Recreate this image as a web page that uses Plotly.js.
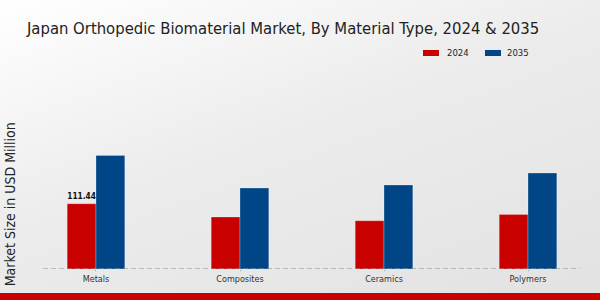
<!DOCTYPE html>
<html>
<head>
<meta charset="utf-8">
<script src="https://cdn.plot.ly/plotly-3.0.1.min.js"></script>
<style>
  html, body { margin: 0; padding: 0; }
  #wrap { position: relative; width: 600px; height: 300px; overflow: hidden;
          background: linear-gradient(160deg, #ffffff 0%, #ececec 45%, #e2e2e2 100%); }
  #chart { position: absolute; left: 0; top: 0; width: 600px; height: 300px; }
  #strip { position: absolute; left: 0; top: 293px; width: 600px; height: 7px; background: #c80000; }
  svg text { font-stretch: condensed; }
</style>
</head>
<body>
<div id="wrap"><div id="chart"></div><div id="strip"></div></div>
<script>
const categories = ["Metals", "Composites", "Ceramics", "Polymers"];
const values2024 = [111.44, 88.7, 82.4, 93.2];
const values2035 = [193.9, 138.2, 143.3, 163.8];
const labels2024 = ["<b>111.44</b>", "", "", ""];
const seriesNames = ["2024", "2035"];
const seriesColors = ["#c80000", "#004687"];

const fam = "DejaVu Sans, sans-serif";

const traces = [
  {
    type: "bar", name: seriesNames[0], x: categories, y: values2024,
    marker: { color: seriesColors[0], line: { color: "rgba(255,255,255,0.5)", width: 0.5 } },
    text: labels2024, textposition: "outside", cliponaxis: false,
    textfont: { family: fam, size: 10, color: "#111" },
    hoverinfo: "skip"
  },
  {
    type: "bar", name: seriesNames[1], x: categories, y: values2035,
    marker: { color: seriesColors[1], line: { color: "rgba(255,255,255,0.5)", width: 0.5 } },
    hoverinfo: "skip"
  }
];

// legend drawn in paper coordinates
const legRectX = [[0.7076, 0.7374], [0.8231, 0.8529]];
const legTextX = [0.7486, 0.8603];
const legendShapes = seriesNames.map((n, i) => ({
  type: "rect", xref: "paper", yref: "paper",
  x0: legRectX[i][0], x1: legRectX[i][1], y0: 1.2241, y1: 1.2586,
  fillcolor: seriesColors[i], line: { width: 0 }
}));
const legendTexts = seriesNames.map((n, i) => ({
  text: n, xref: "paper", yref: "paper", x: legTextX[i], y: 1.2414,
  xanchor: "left", yanchor: "middle", showarrow: false,
  font: { family: fam, size: 9.5, color: "#222" }
}));

const layout = {
  width: 600, height: 300,
  margin: { l: 43, r: 20, t: 95, b: 31, pad: 0, autoexpand: false },
  paper_bgcolor: "rgba(0,0,0,0)", plot_bgcolor: "rgba(0,0,0,0)",
  barmode: "group", bargap: 0.6, bargroupgap: 0,
  title: { text: "Japan Orthopedic Biomaterial Market, By Material Type, 2024 & 2035",
           font: { family: fam, size: 16.5, color: "#222" },
           x: 0.045, xanchor: "left", y: 0.905, yanchor: "middle" },
  showlegend: false,
  xaxis: { type: "category", range: [-0.368, 3.361], showgrid: false, zeroline: false,
           showline: false, ticks: "outside", ticklen: 1, tickcolor: "#999",
           tickfont: { family: fam, size: 9, color: "#333" } },
  yaxis: { range: [0, 297], showgrid: false, zeroline: false, showline: false,
           showticklabels: false, ticks: "" },
  shapes: [
    { type: "line", xref: "paper", x0: 0, x1: 1, yref: "y", y0: 0, y1: 0,
      line: { color: "#888", width: 1, dash: "5px,3px" } }
  ].concat(legendShapes),
  annotations: [
    { text: "Market Size in USD Million", xref: "paper", yref: "paper",
      x: -0.062, y: 0.37, xanchor: "center", yanchor: "middle", textangle: -90,
      showarrow: false, font: { family: fam, size: 14, color: "#222" } }
  ].concat(legendTexts)
};

Plotly.newPlot("chart", traces, layout, { staticPlot: true, displayModeBar: false });
</script>
</body>
</html>
